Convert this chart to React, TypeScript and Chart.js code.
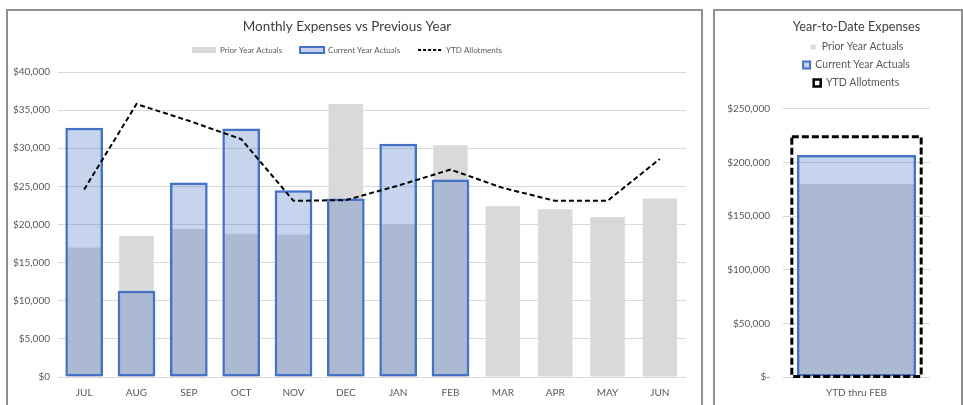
import React, { useEffect, useRef } from 'react';
import { Chart, registerables } from 'chart.js';

Chart.register(...registerables);

// ---- Monthly data ----
const months = ['JUL', 'AUG', 'SEP', 'OCT', 'NOV', 'DEC', 'JAN', 'FEB', 'MAR', 'APR', 'MAY', 'JUN'];
const priorYearActuals = [17000, 18500, 19400, 18800, 18700, 35800, 20000, 30400, 22400, 22000, 21000, 23400];
const currentYearActuals = [32700, 11300, 25500, 32600, 24500, 23400, 30600, 25900, null, null, null, null];
const ytdAllotments = [24600, 35800, 33600, 31200, 23100, 23200, 25100, 27200, 24800, 23100, 23100, 28600];

// ---- Year-to-date data ----
const ytdCategories = ['YTD thru FEB'];
const ytdPriorYear = [180000];
const ytdCurrentYear = [207000];
const ytdAllotmentTotal = [224000];

const FONT = 'Lato, "Open Sans", sans-serif';
const GRAY = '#d9d9d9';
const BLUE = '#4472c4';
const BLUE_FILL = 'rgba(68,114,196,0.3)';
const BLUE_LEGEND = '#c7d2ed';
const TEXT = '#595959';
const TITLE = '#404040';
const GRID = '#d9d9d9';

const dashedOutline = {
  id: 'dashedOutline',
  afterDatasetsDraw(chart: any) {
    const ctx = chart.ctx;
    chart.data.datasets.forEach((ds: any, i: number) => {
      if (!ds.dashedOutline) return;
      const meta = chart.getDatasetMeta(i);
      meta.data.forEach((el: any) => {
        const { x, y, base, width } = el.getProps(['x', 'y', 'base', 'width'], true);
        ctx.save();
        ctx.setLineDash(ds.dashedOutline.dash);
        ctx.lineWidth = ds.dashedOutline.width;
        ctx.strokeStyle = ds.dashedOutline.color;
        ctx.strokeRect(x - width / 2, y, width, base - y);
        ctx.restore();
      });
    });
  },
};

function monthlyConfig(): any {
  return {
    type: 'bar',
    data: {
      labels: months,
      datasets: [
        {
          label: 'Prior Year Actuals',
          data: priorYearActuals,
          backgroundColor: GRAY,
          borderWidth: 0,
          barPercentage: 0.66,
          categoryPercentage: 1,
          grouped: false,
          order: 3,
        },
        {
          label: 'Current Year Actuals',
          data: currentYearActuals,
          backgroundColor: BLUE_FILL,
          borderColor: BLUE,
          borderWidth: 2.5,
          borderSkipped: false,
          barPercentage: 0.72,
          categoryPercentage: 1,
          grouped: false,
          order: 2,
        },
        {
          type: 'line',
          label: 'YTD Allotments',
          data: ytdAllotments,
          borderColor: '#000',
          borderWidth: 2,
          borderDash: [5, 3],
          pointRadius: 0,
          tension: 0,
          fill: false,
          order: 1,
        },
      ],
    },
    options: {
      animation: false,
      responsive: true,
      maintainAspectRatio: false,
      layout: { padding: { left: 0, right: 15, top: 0, bottom: 4 } },
      plugins: {
        title: {
          display: true,
          text: 'Monthly Expenses vs Previous Year',
          color: TITLE,
          font: { family: FONT, size: 13.5, weight: 'normal' },
          padding: { top: 8, bottom: -7.2 },
        },
        legend: {
          position: 'top',
          labels: {
            usePointStyle: true,
            pointStyleWidth: 24,
            boxHeight: 6,
            padding: 18,
            color: TEXT,
            font: { family: FONT, size: 8 },
            generateLabels: () => [
              { text: 'Prior Year Actuals', fillStyle: GRAY, strokeStyle: GRAY, lineWidth: 0, pointStyle: 'rect', hidden: false, datasetIndex: 0, fontColor: TEXT },
              { text: 'Current Year Actuals', fillStyle: BLUE_LEGEND, strokeStyle: BLUE, lineWidth: 2, pointStyle: 'rect', hidden: false, datasetIndex: 1, fontColor: TEXT },
              { text: 'YTD Allotments', fillStyle: 'rgba(0,0,0,0)', strokeStyle: '#000', lineWidth: 2, lineDash: [3, 2], pointStyle: 'line', hidden: false, datasetIndex: 2, fontColor: TEXT },
            ],
          },
        },
        subtitle: { display: true, text: '', padding: 0, font: { size: 8, lineHeight: 1 }, position: 'top', weight: 500 },
        tooltip: { enabled: false },
      },
      scales: {
        x: {
          grid: { display: false, drawTicks: false },
          border: { display: false },
          ticks: { color: TEXT, font: { family: FONT, size: 10 }, padding: 10 },
        },
        y: {
          min: 0,
          max: 40000,
          ticks: {
            stepSize: 5000,
            color: TEXT,
            font: { family: FONT, size: 10 },
            padding: 8,
            callback: (v: any) => '$' + Number(v).toLocaleString('en-US'),
          },
          grid: { color: GRID, drawTicks: false },
          border: { display: false },
          afterFit: (s: any) => { s.width = 50; },
        },
      },
    },
  };
}

function ytdConfig(): any {
  return {
    type: 'bar',
    data: {
      labels: ytdCategories,
      datasets: [
        {
          label: 'Prior Year Actuals',
          data: ytdPriorYear,
          backgroundColor: GRAY,
          borderWidth: 0,
          barPercentage: 0.81,
          categoryPercentage: 1,
          grouped: false,
          order: 3,
        },
        {
          label: 'Current Year Actuals',
          data: ytdCurrentYear,
          backgroundColor: BLUE_FILL,
          borderColor: BLUE,
          borderWidth: 2.5,
          borderSkipped: false,
          barPercentage: 0.81,
          categoryPercentage: 1,
          grouped: false,
          order: 2,
        },
        {
          label: 'YTD Allotments',
          data: ytdAllotmentTotal,
          backgroundColor: 'rgba(0,0,0,0)',
          borderWidth: 0,
          barPercentage: 0.88,
          categoryPercentage: 1,
          grouped: false,
          order: 1,
          dashedOutline: { color: '#000', width: 3, dash: [7, 3] },
        },
      ],
    },
    options: {
      animation: false,
      responsive: true,
      maintainAspectRatio: false,
      layout: { padding: { left: 8, right: 31, top: 0, bottom: 4 } },
      plugins: {
        title: {
          display: true,
          fullSize: false,
          text: 'Year-to-Date Expenses',
          color: TITLE,
          font: { family: FONT, size: 12.7, weight: 'normal' },
          padding: { top: 8.4, bottom: -0.4 },
        },
        legend: {
          position: 'top',
          fullSize: false,
          labels: {
            usePointStyle: true,
            pointStyleWidth: 7,
            boxHeight: 7,
            padding: 7.5,
            color: TEXT,
            font: { family: FONT, size: 10.5 },
            generateLabels: () => [
              { text: 'Prior Year Actuals', fillStyle: GRAY, strokeStyle: '#fff', lineWidth: 2, pointStyle: 'rect', hidden: false, datasetIndex: 0, fontColor: TEXT },
              { text: 'Current Year Actuals', fillStyle: BLUE_LEGEND, strokeStyle: BLUE, lineWidth: 2, pointStyle: 'rect', hidden: false, datasetIndex: 1, fontColor: TEXT },
              { text: 'YTD Allotments', fillStyle: '#fff', strokeStyle: '#000', lineWidth: 2.5, pointStyle: 'rect', hidden: false, datasetIndex: 2, fontColor: TEXT },
            ],
          },
        },
        subtitle: { display: true, text: '', padding: 0, font: { size: 10.75, lineHeight: 1 }, position: 'top', weight: 500 },
        tooltip: { enabled: false },
      },
      scales: {
        x: {
          grid: { display: false, drawTicks: false },
          border: { display: false },
          ticks: { color: TEXT, font: { family: FONT, size: 10 }, padding: 10 },
        },
        y: {
          min: 0,
          max: 250000,
          ticks: {
            stepSize: 50000,
            color: TEXT,
            font: { family: FONT, size: 10 },
            padding: 13,
            callback: (v: any) => (Number(v) === 0 ? '$-' : '$' + Number(v).toLocaleString('en-US')),
          },
          grid: { color: GRID, drawTicks: false },
          border: { display: false },
          afterFit: (s: any) => { s.width = 60; },
        },
      },
    },
    plugins: [dashedOutline],
  };
}

export default function App() {
  const leftRef = useRef<HTMLCanvasElement | null>(null);
  const rightRef = useRef<HTMLCanvasElement | null>(null);

  useEffect(() => {
    const c1 = new Chart(leftRef.current as HTMLCanvasElement, monthlyConfig());
    const c2 = new Chart(rightRef.current as HTMLCanvasElement, ytdConfig());
    return () => {
      c1.destroy();
      c2.destroy();
    };
  }, []);

  return (
    <div style={{ position: 'fixed', left: 0, top: 0, width: 963, height: 405, background: '#fff', overflow: 'hidden' }}>
      <div style={{ position: 'absolute', left: 6, top: 9, width: 697, height: 420, border: '2px solid #8f8f8f', boxSizing: 'border-box' }}>
        <div style={{ position: 'absolute', left: 0, top: 0, width: 693, height: 402 }}>
          <canvas ref={leftRef} />
        </div>
      </div>
      <div style={{ position: 'absolute', left: 713, top: 9, width: 250, height: 420, border: '2px solid #8f8f8f', boxSizing: 'border-box' }}>
        <div style={{ position: 'absolute', left: 0, top: 0, width: 246, height: 402 }}>
          <canvas ref={rightRef} />
        </div>
      </div>
    </div>
  );
}
